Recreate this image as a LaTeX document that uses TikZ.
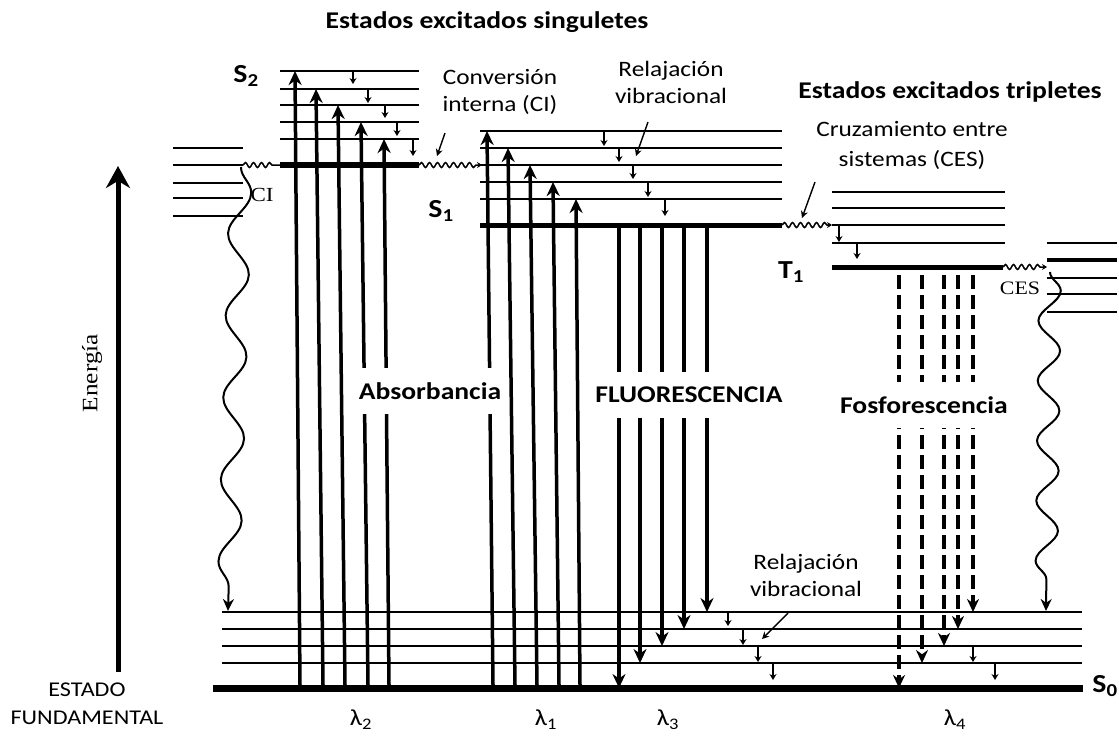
\documentclass[tikz,border=0pt]{standalone}
\usepackage{fontspec}
\setmainfont{Carlito}
\newfontfamily\etfont{Carlito}[FakeStretch=1.15]
\newfontfamily\romfont{Liberation Serif}[FakeStretch=1.15]
\usepackage{tikz}
\usetikzlibrary{arrows.meta, positioning, calc, decorations.pathmorphing}

\tikzset{
    nivel/.style={line width=2.2pt},
    absor/.style={line width=3.5pt, -{Stealth[length=14pt,width=13pt]}},
    fluor/.style={line width=3.5pt, -{Stealth[length=14pt,width=13pt]}},
    fosfo/.style={line width=3.5pt, dash pattern=on 14pt off 6pt, -{Stealth[length=13pt,width=12pt]}},
    relaj/.style={line width=1.3pt, -{Stealth[length=6pt,width=7pt]}},
    puntero/.style={line width=1.4pt, -{Stealth[length=7pt,width=7pt]}},
    ondagrande/.style={line width=2pt, decorate,
        decoration={snake, amplitude=11pt, segment length=#1, post length=10pt}},
    ondachica/.style={line width=1.5pt, decorate,
        decoration={snake, amplitude=2.5pt, segment length=8pt, post length=5pt}},
    titulo/.style={font=\etfont\fontsize{24}{28}\selectfont\bfseries},
    etiqueta/.style={font=\etfont\fontsize{22}{27}\selectfont, align=center},
    proceso/.style={font=\etfont\fontsize{24}{28}\selectfont\bfseries, fill=white,
        inner xsep=2pt, inner ysep=0pt, minimum height=46pt},
    estado/.style={font=\etfont\fontsize{26}{30}\selectfont\bfseries},
    lambda/.style={font=\etfont\fontsize{23}{26}\selectfont},
}

\begin{document}
\begin{tikzpicture}[x=1pt, y=-1pt]
    \useasboundingbox (0,0) rectangle (1119,740);

    % niveles de S0
    \foreach \y in {612,629,646,663} {
        \draw[nivel] (222,\y) -- (1082,\y);
    }
    \draw[line width=7pt] (213,688) -- (1083,688);

    % niveles superiores (izquierda)
    \foreach \y in {148,165,183,198,216} {
        \draw[nivel] (173,\y) -- (243,\y);
    }

    % niveles de S2
    \foreach \y in {71,89,105,122,139} {
        \draw[nivel] (280,\y) -- (419,\y);
    }
    \draw[line width=6pt] (280,165) -- (419,165);

    % niveles de S1
    \foreach \y in {131,148,165,182,199} {
        \draw[nivel] (480,\y) -- (782,\y);
    }
    \draw[line width=5pt] (480,225) -- (782,225);

    % niveles de T1
    \foreach \y in {192,208,225,243} {
        \draw[nivel] (832,\y) -- (1005,\y);
    }
    \draw[line width=5pt] (832,267) -- (1003,267);

    % niveles (derecha)
    \foreach \y in {243,278,294,312} {
        \draw[nivel] (1047,\y) -- (1117,\y);
    }
    \draw[line width=3.5pt] (1047,260) -- (1117,260);

    % absorbancia hacia S2 y S1
    \foreach \xa/\xb/\yt in {300/295/71, 323/316/89, 345/338/105, 368/361/122, 389/384/139} {
        \draw[absor] (\xa,685) -- (\xb,\yt);
    }
    \foreach \xa/\xb/\yt in {493/487/131, 515/508/148, 537/530/165, 559/553/182, 580/576/199} {
        \draw[absor] (\xa,685) -- (\xb,\yt);
    }

    % fluorescencia
    \foreach \x/\yf in {619/688, 640/663, 662/646, 684/629, 707/612} {
        \draw[fluor] (\x,227) -- (\x,\yf);
    }

    % fosforescencia
    \foreach \x/\yf in {899/688, 922/663, 944/646, 958/629, 973/612} {
        \draw[fosfo] (\x,275) -- (\x,\yf);
    }

    % relajacion vibracional
    \foreach \x/\ya/\yb in {353/72/84, 368/90/103, 385/106/118, 397/123/136, 413/140/156,
                            604/132/146, 619/149/162, 633/166/179, 648/183/197, 665/200/216,
                            839/226/242, 857/244/259,
                            728/613/626, 743/630/645, 758/647/662, 773/664/680,
                            973/647/662, 995/664/680} {
        \draw[relaj] (\x,\ya) -- (\x,\yb);
    }

    % conversion interna y cruzamiento entre sistemas
    \draw[ondachica] (243,165) -- (280,165);
    \draw[ondachica, -{Stealth[length=5pt,width=6pt]}] (419,165) -- (482,165);
    \draw[ondachica, -{Stealth[length=5pt,width=6pt]}] (782,225) -- (832,225);
    \draw[ondachica, -{Stealth[length=5pt,width=6pt]}] (1003,267) -- (1047,267);
    \draw[ondagrande=82pt, -{Stealth[length=12pt,width=11pt]}] (241,167) -- (228,611);
    \draw[ondagrande=60pt, -{Stealth[length=12pt,width=11pt]}] (1050,272) -- (1046,611);

    % eje de energia
    \draw[line width=5pt, -{Stealth[length=22pt,width=24pt]}] (118,672) -- (118,166);
    \node[font=\romfont\fontsize{22}{24}\selectfont, rotate=90] (energia) at (92,373) {Energía};

    % textos
    \node[titulo] (singuletes) at (487,22) {Estados excitados singuletes};
    \node[titulo] (tripletes) at (950,92) {Estados excitados tripletes};
    \node[etiqueta] (convint) at (500,92) {Conversión\\interna (CI)};
    \node[etiqueta] (relajsup) at (671,82) {Relajación\\vibracional};
    \node[etiqueta, font=\etfont\fontsize{22}{30}\selectfont] (cruce) at (912,145) {Cruzamiento entre\\sistemas (CES)};
    \node[etiqueta] (relajinf) at (806,575) {Relajación\\vibracional};
    \draw[puntero] (445,133) -- (437,156);
    \draw[puntero] (648,122) -- (636,156);
    \draw[puntero] (815,182) -- (802,218);
    \draw[puntero] (788,613) -- (762,639);

    \node[font=\romfont\fontsize{20}{24}\selectfont] (ci) at (262,195) {CI};
    \node[font=\romfont\fontsize{19}{22}\selectfont, fill=white, inner sep=1pt] (ces) at (1020,288) {CES};

    \node[proceso] (absorb) at (430,391) {Absorbancia};
    \node[proceso] (fluores) at (689,395) {FLUORESCENCIA};
    \node[proceso] (fosfores) at (924,405) {Fosforescencia};

    % estados
    \node[estado] (s2) at (246,76) {S\textsubscript{2}};
    \node[estado] (s1) at (441,211) {S\textsubscript{1}};
    \node[estado] (t1) at (791,272) {T\textsubscript{1}};
    \node[estado] (s0) at (1105,686) {S\textsubscript{0}};
    \node[etiqueta, font=\etfont\fontsize{21}{28}\selectfont] (fundamental) at (87,704) {ESTADO\\FUNDAMENTAL};

    % longitudes de onda
    \node[lambda] (l2) at (361,720) {λ\textsubscript{2}};
    \node[lambda] (l1) at (546,720) {λ\textsubscript{1}};
    \node[lambda] (l3) at (668,720) {λ\textsubscript{3}};
    \node[lambda] (l4) at (955,720) {λ\textsubscript{4}};
\end{tikzpicture}
\end{document}
